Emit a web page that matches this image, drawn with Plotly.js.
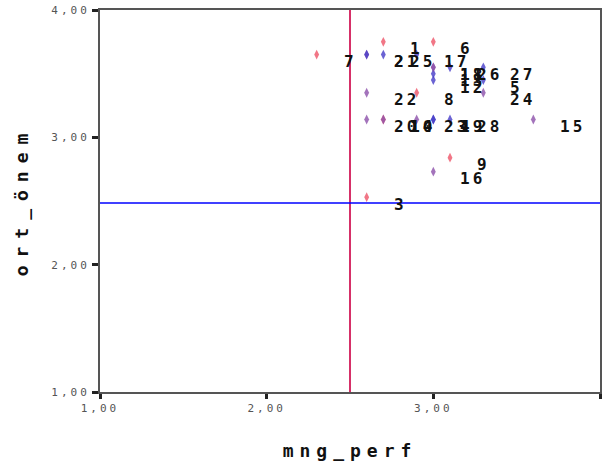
<!DOCTYPE html>
<html>
<head>
<meta charset="utf-8">
<script src="https://cdn.plot.ly/plotly-3.0.1.min.js"></script>
<style>
  html, body { margin: 0; padding: 0; background: #fff; }
  #chart { width: 615px; height: 469px; }
  .xtitle { letter-spacing: 6px; }
  .ytitle { letter-spacing: 8px; }
  .xtick text, .ytick text { letter-spacing: 3px; }
  .annotation-text { letter-spacing: 3px; }
</style>
</head>
<body>
<div id="chart"></div>
<script>
// Case labels, x = mng_perf, y = ort_önem, marker tone group
const items   = ['1','2','3','4','5','6','7','8','9','10','11','12','13','14','15','16','17','18','19','20','21','22','23','24','25','26','27','28'];
const mngPerf = [2.7, 2.6, 2.6, 3.0, 3.3, 3.0, 2.3, 2.9, 3.1, 2.7, 3.0, 3.0, 3.0, 2.7, 3.6, 3.0, 2.9, 3.0, 3.0, 2.6, 2.6, 2.6, 2.9, 3.3, 2.7, 3.1, 3.3, 3.1];
const ortOnem = [3.75, 3.65, 2.53, 3.14, 3.45, 3.75, 3.65, 3.35, 2.84, 3.14, 3.55, 3.45, 3.50, 3.14, 3.14, 2.73, 3.65, 3.55, 3.14, 3.14, 3.65, 3.35, 3.14, 3.35, 3.65, 3.55, 3.55, 3.14];
const tone    = ['R','P','R','B','B','R','R','R','R','R','P','B','B','P','P','P','B','P','B','P','B','P','P','P','B','B','B','B'];

// Reference lines
const refPerf = 2.5;
const refOnem = 2.485;

// Axis ticks
const tickVals = [1, 2, 3, 4];
const tickText = ['1,00', '2,00', '3,00', '4,00'];

const toneColor = { R: 'rgba(238,84,104,0.8)', B: 'rgba(70,60,200,0.8)', P: 'rgba(140,80,170,0.8)' };

const markers = {
  type: 'scatter',
  mode: 'markers',
  x: mngPerf,
  y: ortOnem,
  text: items,
  marker: {
    symbol: 'diamond-tall',
    size: 7,
    color: tone.map(t => toneColor[t]),
    line: { width: 0 }
  },
  hoverinfo: 'text+x+y',
  showlegend: false
};

const annotations = items.map((lab, i) => ({
  x: mngPerf[i],
  y: ortOnem[i],
  xref: 'x',
  yref: 'y',
  text: lab,
  showarrow: false,
  xanchor: 'left',
  yanchor: 'middle',
  xshift: 25,
  yshift: -7,
  font: { family: 'DejaVu Sans Mono', size: 16, color: '#111', weight: 'bold' }
}));

const layout = {
  width: 615,
  height: 469,
  margin: { l: 100, r: 15, t: 10, b: 77 },
  paper_bgcolor: '#ffffff',
  plot_bgcolor: '#ffffff',
  showlegend: false,
  xaxis: {
    range: [1, 4],
    tickvals: tickVals,
    ticktext: tickText,
    ticks: 'outside',
    ticklen: 5,
    tickwidth: 3,
    tickcolor: '#222',
    showline: true,
    linecolor: '#555',
    linewidth: 2,
    mirror: true,
    showgrid: false,
    zeroline: false,
    tickfont: { family: 'DejaVu Sans Mono', size: 11, color: '#555' },
    title: {
      text: 'mng_perf',
      standoff: 30,
      font: { family: 'DejaVu Sans Mono', size: 18, color: '#111', weight: 'bold' }
    }
  },
  yaxis: {
    range: [1, 4],
    tickvals: tickVals,
    ticktext: tickText,
    ticks: 'outside',
    ticklen: 6,
    tickwidth: 3,
    tickcolor: '#222',
    showline: true,
    linecolor: '#555',
    linewidth: 2,
    mirror: true,
    showgrid: false,
    zeroline: false,
    tickfont: { family: 'DejaVu Sans Mono', size: 11, color: '#555' },
    title: {
      text: '\u00a0ort_önem',
      standoff: 18,
      font: { family: 'DejaVu Sans Mono', size: 18, color: '#111', weight: 'bold' }
    }
  },
  shapes: [
    { type: 'line', xref: 'x', yref: 'paper', x0: refPerf, x1: refPerf, y0: 0, y1: 1,
      line: { color: '#d63068', width: 2 } },
    { type: 'line', xref: 'paper', yref: 'y', x0: 0, x1: 1, y0: refOnem, y1: refOnem,
      line: { color: '#0000ff', width: 1.5 } }
  ],
  annotations: annotations
};

Plotly.newPlot('chart', [markers], layout, { displayModeBar: false, staticPlot: true });
</script>
</body>
</html>
